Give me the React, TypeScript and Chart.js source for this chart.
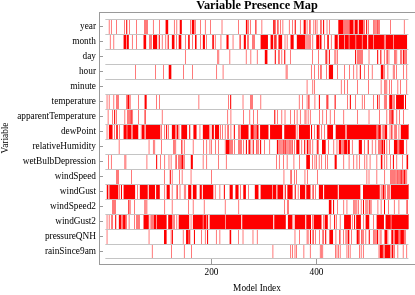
import React, { useEffect, useRef } from 'react';
import { Chart, registerables } from 'chart.js';

Chart.register(...registerables);

type Seg = number | [number, number];

const variables = [
  'year', 'month', 'day', 'hour', 'minute', 'temperature', 'apparentTemperature', 'dewPoint',
  'relativeHumidity', 'wetBulbDepression', 'windSpeed', 'windGust', 'windSpeed2', 'windGust2',
  'pressureQNH', 'rainSince9am',
];

const xTickValues = [200, 400];
const modelCount = 575;

// model indices where each variable is present (number = single model, [a,b] = run of models)
const year: Seg[] = [5, 9, 19, 34, [38, 39], 44, 57, 72, 74, 76, 78, 89, 101, [113, 117], 129, 134, [140, 143], 160, [163, 167], 169, 179, 188, 198, 220, 251, [266, 268], 270, 274, [284, 285], 296, [318, 320], 322, [326, 327], 331, 336, 348, 354, [359, 360], 369, [376, 379], 382, [387, 388], 395, 398, 401, [408, 409], [413, 414], 420, 425, [442, 451], 453, 455, 457, 459, 461, [463, 470], [473, 478], [481, 489], 491, [495, 496], 499, 509, 511, 513, [515, 516], 518, 520, 541, 567];
const month: Seg[] = [7, 14, [33, 37], [39, 42], 49, 57, [71, 75], 82, 84, 86, [89, 96], [100, 101], 106, 113, [117, 118], [125, 129], 133, [138, 142], 150, [156, 158], 164, [169, 171], 179, [184, 187], 190, [202, 204], 207, 218, [229, 232], 241, [254, 255], [262, 265], [269, 270], 278, 280, 282, [294, 307], [313, 317], [320, 322], 324, [328, 334], 340, 344, [351, 356], [363, 378], 380, 382, 384, 386, 388, 393, [400, 405], [407, 409], 415, [421, 423], 428, [435, 440], [443, 452], [454, 461], [463, 474], [476, 486], [488, 496], [499, 508], [510, 528], 530, [532, 546], [548, 572]];
const day: Seg[] = [150, 212, 214, 235, 266, 275, 287, [302, 306], [321, 322], [328, 329], 334, [339, 340], 350, 392, 404, 417, [419, 420], [424, 425], 435, 437, 440, [474, 475], 478, 480, 482, 484, 486, 488, 500, [516, 517], [522, 523], 529, [534, 535], 538, [549, 550], 553, 560, 562, [565, 566], 568, [570, 571]];
const hour: Seg[] = [55, 93, 109, [119, 123], 147, 164, 210, 222, 342, 344, 390, 396, 404, [408, 409], 419, [424, 431], 440, 453, 463, 471, 477, [483, 484], 491, 499, 506, [523, 527], 529, 536, 546, 548, 552, 566, 572];
const minute: Seg[] = [382, 393, 396, 447, 453, 459, 478, 499, 523, 530, 532, 534, 539, 543, 555, 560, 572];
const temperature: Seg[] = [1, 5, 14, 19, 21, 23, 38, 40, [41, 43], 45, 61, [73, 76], 95, 101, 176, 232, [236, 237], 260, 274, 276, 278, 294, 367, 373, 382, [385, 386], 397, [405, 406], 419, [421, 422], [435, 436], 459, [464, 465], 474, 487, 491, 509, [516, 517], 520, 529, 531, 533, [539, 544], 546, 548, [552, 566], [569, 570]];
const apparentTemperature: Seg[] = [3, 11, [15, 16], 19, 35, 40, 42, 44, [46, 47], 48, 50, 61, [73, 74], 106, 231, 237, 261, 273, 280, 288, [320, 321], 326, 334, 340, 350, 358, 363, 369, 378, 380, 384, 388, 406, 412, 419, 426, 434, 452, 478, 500, 520, 534, 539, 541, [543, 545], 547, 553, 558, 566];
const dewPoint: Seg[] = [1, [5, 11], 15, [19, 21], 25, [33, 38], [40, 47], 49, [51, 60], 66, [68, 72], [75, 102], 105, 111, [114, 115], 118, [125, 130], 132, [134, 136], 138, [143, 153], [158, 159], [166, 171], 178, [184, 195], 197, [201, 204], [207, 214], 217, 221, 226, [231, 232], 237, [243, 244], 251, 253, [256, 270], [275, 280], 282, 284, [286, 289], [293, 308], [312, 334], [339, 360], 363, [367, 387], [390, 391], 396, [401, 404], 406, 410, 415, [421, 431], [437, 454], 456, [458, 514], 516, [518, 522], 525, 528, [530, 534], 540, [543, 544], 548, 550, 552, 557, [561, 575]];
const relativeHumidity: Seg[] = [24, 81, 89, 92, 105, 128, 130, 132, [143, 144], 148, 165, 185, 191, 197, 200, 208, 213, 226, [228, 234], 236, 238, 240, 244, 251, 253, 255, 257, 261, [266, 267], 270, [272, 273], 275, [279, 280], [286, 287], 290, [293, 294], 301, 311, [325, 327], 329, 332, 334, [336, 337], 339, [341, 342], 344, 346, [349, 350], [353, 354], 358, [362, 367], 372, [377, 378], [382, 384], 386, 388, 393, [401, 402], 404, [411, 417], 423, 433, 439, [443, 447], 449, 451, [453, 458], [460, 463], 468, [481, 486], 491, [498, 499], 506, 513, 518, 520, 522, [524, 527], [529, 530], 534, 539, [548, 554], 556, [558, 566], 572];
const wetBulbDepression: Seg[] = [4, 9, 35, 37, 77, [95, 96], 103, 111, 119, 123, [132, 133], 137, 139, 141, [143, 146], 148, [161, 164], 184, 191, 213, 228, 324, 329, 337, 344, 357, 368, [381, 387], 392, 397, 400, 405, 410, 417, 421, [435, 438], 452, 462, 471, 477, 482, 492, 496, 502, 515, [523, 525], 529, 534, 541, [546, 547], 553, 564, [572, 574]];
const windSpeed: Seg[] = [19, 21, 23, 48, 110, [121, 122], 125, 139, 144, 161, 200, 338, [351, 352], 358, 362, 378, 383, 402, 496, 500, 515, 530, 541, 543, 545, 547, 549, 551, [553, 554], 556, 558, 560, [561, 562], 564, 566, [567, 568], 570, 572];
const windGust: Seg[] = [[1, 3], [6, 22], 25, [28, 29], [33, 54], 59, [64, 78], [81, 92], [95, 101], 111, [115, 120], 125, [134, 135], 140, 148, 151, [156, 161], [165, 171], [178, 181], [184, 203], 207, 216, [224, 225], [235, 240], [246, 251], 255, [261, 265], 270, [283, 289], [294, 315], [317, 323], [326, 336], [340, 341], [345, 354], [359, 360], 365, [369, 378], [381, 388], [393, 394], 398, [405, 412], [415, 440], [443, 483], [489, 520], 523, 525, [527, 529], 531, 535, 537, 539, [542, 575]];
const windSpeed2: Seg[] = [11, 13, 15, 17, [42, 43], 45, 53, 73, 75, 77, 111, 125, 156, 165, 186, 226, 252, 339, 345, 347, [424, 428], [432, 433], 440, 452, 458, 471, 473, 475, 477, 480, 485, [489, 490], 494, 496, 498, [501, 502], 504, 517, 523, [529, 530], 537, 548, 557, [572, 573]];
const windGust2: Seg[] = [1, 5, [10, 11], [17, 18], [24, 28], 30, [32, 36], 38, 43, 53, 57, 59, 61, 63, [71, 80], 83, 86, 88, [90, 94], [96, 114], [118, 125], 127, 129, 134, [138, 157], 161, [165, 183], [185, 190], [192, 193], [197, 226], [228, 256], [259, 317], [320, 341], [346, 353], 355, [359, 378], [381, 389], 392, [395, 409], 413, [416, 421], 426, [434, 435], 438, 445, [453, 465], 468, [472, 473], [476, 484], 490, [494, 500], 509, [515, 528], [532, 541], [543, 575]];
const pressureQNH: Seg[] = [1, 81, [110, 114], 123, [125, 126], 146, [152, 156], [158, 159], [167, 168], 181, 188, [192, 193], 209, 216, [235, 237], 251, 260, 279, 287, 359, 368, 382, 384, [388, 389], [393, 394], 398, 406, [412, 413], [417, 418], [425, 431], 437, [444, 445], 451, 456, 458, [460, 462], 467, [477, 480], 482, [486, 487], 489, 494, [500, 501], 509, 511, 513, [515, 517], 521, 523, [530, 534], 536, [543, 546], [549, 556], 558, [560, 566], 568, 570];
const rainSince9am: Seg[] = [87, 124, 148, 162, 317, 351, 354, 359, 362, 376, 388, 407, 409, 412, 436, 439, 442, 445, 458, 461, 464, 482, 485, 489, 519, [521, 526], 528, [530, 540], 542, [544, 546], 549, 555, 565, 572];

const rows: Seg[][] = [
  year, month, day, hour, minute, temperature, apparentTemperature, dewPoint,
  relativeHumidity, wetBulbDepression, windSpeed, windGust, windSpeed2, windGust2,
  pressureQNH, rainSince9am,
];

const FONT = "'Liberation Serif', 'Times New Roman', serif";
const AXIS = '#9a9a9a';
const ROWLINE = '#c4c4c4';
const RED = '#ff0000';

const topFrame = {
  id: 'topFrame',
  afterDraw(chart: any) {
    const { ctx, chartArea } = chart;
    ctx.save();
    ctx.strokeStyle = AXIS;
    ctx.lineWidth = 1;
    ctx.beginPath();
    ctx.moveTo(chartArea.left, chartArea.top + 0.5);
    ctx.lineTo(chartArea.right, chartArea.top + 0.5);
    ctx.stroke();
    ctx.restore();
  },
};

export default function App() {
  const ref = useRef<HTMLCanvasElement | null>(null);

  useEffect(() => {
    if (!ref.current) return;

    const datasets: any[] = rows.map((segs, r) => ({
      label: variables[r],
      data: segs.map((s) => {
        const [a, b] = Array.isArray(s) ? s : [s, s];
        return { x: [a - 0.5, b + 0.5], y: r };
      }),
      backgroundColor: RED,
      borderWidth: 0,
      inflateAmount: 0,
      grouped: false,
      barPercentage: 1,
      categoryPercentage: 1,
      order: 1,
    }));

    datasets.push({
      label: 'rows',
      data: variables.map((_, r) => ({ x: [-2.5, modelCount + 0.5], y: r })),
      backgroundColor: 'rgba(0,0,0,0)',
      borderColor: ROWLINE,
      borderSkipped: false,
      borderWidth: (c: any) => ({ top: 1, bottom: c.dataIndex === variables.length - 1 ? 1 : 0, left: 0, right: 0 }),
      inflateAmount: 0,
      grouped: false,
      barPercentage: 1,
      categoryPercentage: 1,
      order: 0,
    });

    const chart = new Chart(ref.current, {
      type: 'bar',
      data: { datasets },
      plugins: [topFrame],
      options: {
        animation: false,
        responsive: true,
        maintainAspectRatio: false,
        indexAxis: 'y',
        layout: { padding: 0 },
        font: { family: FONT },
        plugins: {
          legend: { display: false },
          tooltip: { enabled: false },
          title: {
            display: true,
            text: 'Variable Presence Map',
            fullSize: false,
            color: '#000',
            padding: 0,
            font: { family: FONT, size: 12.3, weight: 'bold', lineHeight: '12px' },
          },
        },
        scales: {
          x: {
            type: 'linear',
            min: -14.3,
            max: 587.6,
            offset: false,
            afterBuildTicks: (s: any) => {
              s.ticks = xTickValues.map((v) => ({ value: v }));
            },
            afterFit: (s: any) => {
              s.height = 31;
              s.paddingLeft = 0;
              s.paddingRight = 0;
            },
            grid: { drawOnChartArea: false, drawTicks: true, tickLength: -5, color: AXIS, offset: false },
            border: { display: true, color: AXIS },
            ticks: { color: '#000', padding: 8, maxRotation: 0, font: { family: FONT, size: 9.3 } },
            title: {
              display: true,
              text: 'Model Index',
              color: '#000',
              padding: { top: 0, bottom: 0.5 },
              font: { family: FONT, size: 9.3 },
            },
          },
          y: {
            type: 'linear',
            reverse: true,
            offset: false,
            min: -0.9667,
            max: 15.8333,
            afterBuildTicks: (s: any) => {
              s.ticks = variables.map((_, i) => ({ value: i }));
            },
            afterFit: (s: any) => {
              s.width = 99;
              s.paddingTop = 0;
              s.paddingBottom = 0;
            },
            grid: { drawOnChartArea: false, drawTicks: true, tickLength: -4, color: AXIS, offset: false },
            border: { display: true, color: AXIS },
            ticks: {
              color: '#000',
              padding: 7,
              autoSkip: false,
              font: { family: FONT, size: 9.3 },
              callback: (v: any) => variables[Math.round(Number(v))] ?? '',
            },
            title: {
              display: true,
              text: 'Variable',
              color: '#000',
              padding: { top: 0, bottom: 0 },
              font: { family: FONT, size: 9.3 },
            },
          },
        },
      } as any,
    });

    return () => chart.destroy();
  }, []);

  return (
    <div style={{ position: 'fixed', left: 0, top: 0, width: 415, height: 295, background: '#fff' }}>
      <canvas ref={ref} style={{ display: 'block' }} />
    </div>
  );
}
